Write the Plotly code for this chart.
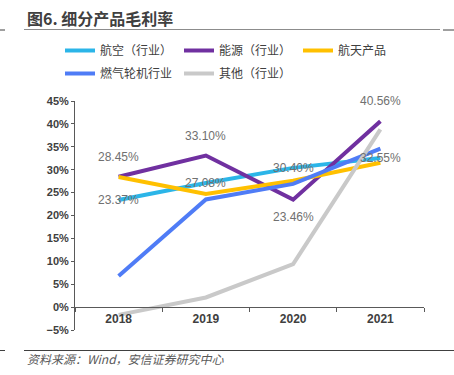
import plotly.graph_objects as go

years = ["2018", "2019", "2020", "2021"]
names = ["航空（行业）", "能源（行业）", "航天产品", "燃气轮机行业", "其他（行业）"]
aviation = [23.37, 27.08, 30.40, 32.55]
energy = [28.45, 33.10, 23.46, 40.56]
space = [28.4, 24.7, 27.6, 31.5]
turbine = [6.8, 23.5, 26.9, 34.6]
other = [-1.7, 2.1, 9.4, 38.8]
colors = ["#2BB5E8", "#7030A0", "#FFC000", "#4F7CF6", "#C9C9C9"]
series = [aviation, energy, space, turbine, other]
legend_ids = ["legend", "legend", "legend", "legend2", "legend2"]

yticks = [-5, 0, 5, 10, 15, 20, 25, 30, 35, 40, 45]
ytick_text = [f"{v}%" if v >= 0 else f"−{-v}%" for v in yticks]

# data labels: (series values, vertical offsets in px)
label_series = [aviation, energy]
label_shifts = [[0, 0, 0, 0], [20, 20, -17, 20]]

W, H = 454, 375
L, R, T, B = 75, 30, 101, 45
pw, ph = W - L - R, H - T - B


def px_x(p):
    return (p - L) / pw


def px_y(p):
    return (H - B - p) / ph


fig = go.Figure()
for n, v, c, lg in zip(names, series, colors, legend_ids):
    fig.add_trace(go.Scatter(x=years, y=v, name=n, mode="lines",
                             line=dict(color=c, width=4), legend=lg))

annos = []
for vals, shifts in zip(label_series, label_shifts):
    for i, (v, s) in enumerate(zip(vals, shifts)):
        annos.append(dict(x=i, y=v, xref="x", yref="y", text=f"{v:.2f}%",
                          showarrow=False, yshift=s,
                          font=dict(size=12, color="#707070",
                                    family="Liberation Sans, Arial")))

annos.append(dict(x=px_x(25), y=px_y(18), xref="paper", yref="paper",
                  text="图6. 细分产品毛利率",
                  showarrow=False, xanchor="left", yanchor="middle",
                  font=dict(size=16, color="#404040", family="Noto Sans CJK SC", weight=600)))
annos.append(dict(x=px_x(25), y=px_y(358), xref="paper", yref="paper",
                  text="<i>资料来源：Wind，安信证券研究中心</i>",
                  showarrow=False, xanchor="left", yanchor="middle",
                  font=dict(size=12, color="#595959", family="Noto Sans CJK SC")))

shapes = [
    dict(type="line", xref="paper", yref="paper", x0=px_x(24), x1=px_x(440), y0=px_y(29.5), y1=px_y(29.5),
         line=dict(color="#8C8C8C", width=1)),
    dict(type="line", xref="paper", yref="paper", x0=px_x(0), x1=px_x(5), y0=px_y(30), y1=px_y(30),
         line=dict(color="#404040", width=1)),
    dict(type="line", xref="paper", yref="paper", x0=px_x(443), x1=px_x(454), y0=px_y(30), y1=px_y(30),
         line=dict(color="#404040", width=1)),
    dict(type="line", xref="paper", yref="paper", x0=px_x(24), x1=px_x(454), y0=px_y(350.5), y1=px_y(350.5),
         line=dict(color="#404040", width=1)),
    dict(type="line", xref="paper", yref="paper", x0=px_x(0), x1=px_x(5), y0=px_y(350.5), y1=px_y(350.5),
         line=dict(color="#404040", width=1)),
]

legend_font = dict(size=12, color="#404040", family="Noto Sans CJK SC")
fig.update_layout(
    width=W, height=H,
    margin=dict(l=L, r=R, t=T, b=B, autoexpand=False),
    paper_bgcolor="white", plot_bgcolor="white",
    showlegend=True,
    legend=dict(orientation="h", x=px_x(60), y=px_y(36), xanchor="left", yanchor="top",
                font=legend_font, entrywidth=74, entrywidthmode="pixels",
                bgcolor="rgba(0,0,0,0)"),
    legend2=dict(orientation="h", x=px_x(60), y=px_y(59), xanchor="left", yanchor="top",
                 font=legend_font, entrywidth=74, entrywidthmode="pixels",
                 bgcolor="rgba(0,0,0,0)"),
    xaxis=dict(type="category", range=[-0.5, 3.5], tickson="boundaries",
               ticks="outside", ticklen=4, tickcolor="#595959",
               showline=True, linecolor="#595959", linewidth=1,
               anchor="free", position=0.1, showgrid=False, zeroline=False,
               tickfont=dict(size=12, color="#404040", family="Liberation Sans, Arial", weight="bold")),
    yaxis=dict(range=[-5, 45], tickvals=yticks, ticktext=ytick_text,
               ticks="outside", ticklen=3, tickcolor="#595959",
               showline=True, linecolor="#595959", linewidth=1,
               showgrid=False, zeroline=False, domain=[0, 1],
               tickfont=dict(size=11, color="#404040", family="Liberation Sans, Arial", weight="bold")),
    annotations=annos,
    shapes=shapes,
)

fig.write_html("out.html", config={"displayModeBar": False},
               post_script="document.body.style.margin='0';document.body.style.overflow='hidden';")
